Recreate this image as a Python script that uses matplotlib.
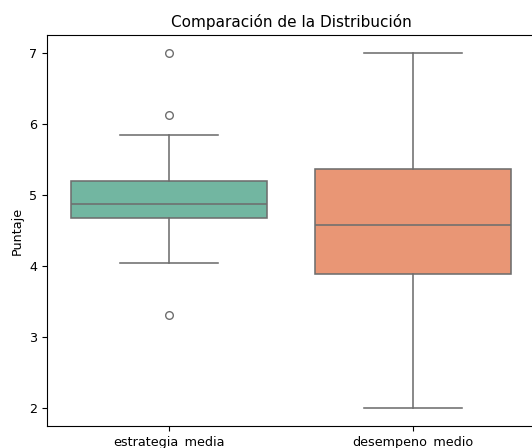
import matplotlib
matplotlib.use("Agg")
import matplotlib.pyplot as plt
import seaborn as sns

# Box summary statistics per variable
categories = ["estrategia_media", "desempeno_medio"]
q1 = [4.68, 3.89]
medians = [4.87, 4.58]
q3 = [5.19, 5.36]
whisker_low = [4.04, 2.0]
whisker_high = [5.84, 7.0]
outliers = [[7.0, 6.13, 3.31], []]

palette = sns.color_palette("Set2", 2)
fills = [sns.desaturate(c, 0.75) for c in palette]
line_color = "#6e6e6e"

stats = []
for i, name in enumerate(categories):
    stats.append({
        "label": name,
        "q1": q1[i],
        "med": medians[i],
        "q3": q3[i],
        "whislo": whisker_low[i],
        "whishi": whisker_high[i],
        "fliers": outliers[i],
    })

plt.rcParams["font.size"] = 9.2

fig = plt.figure(figsize=(5.32, 4.48), dpi=100)
ax = fig.add_axes([47 / 532, 22 / 448, 488 / 532, 391 / 448])

lw = 1.15
bp = ax.bxp(
    stats,
    positions=range(len(categories)),
    widths=0.8,
    patch_artist=True,
    showfliers=True,
    boxprops=dict(edgecolor=line_color, linewidth=lw),
    medianprops=dict(color=line_color, linewidth=lw),
    whiskerprops=dict(color=line_color, linewidth=lw),
    capprops=dict(color=line_color, linewidth=lw),
    capwidths=0.4,
    flierprops=dict(marker="o", markersize=5.5, markerfacecolor="none",
                    markeredgecolor=line_color, markeredgewidth=1.0),
)
for patch, c in zip(bp["boxes"], fills):
    patch.set_facecolor(c)

ax.set_xlim(-0.5, 1.5)
ax.set_ylim(1.75, 7.25)
ax.set_xticks(range(len(categories)))
ax.set_xticklabels(categories)
ax.set_yticks([2, 3, 4, 5, 6, 7])
ax.tick_params(labelsize=9.2)
ax.set_title("Comparación de la Distribución", fontsize=11)
ax.set_ylabel("Puntaje", fontsize=9.2)
ax.spines["right"].set_visible(False)

fig.savefig("out.png", dpi=100, facecolor="white")
